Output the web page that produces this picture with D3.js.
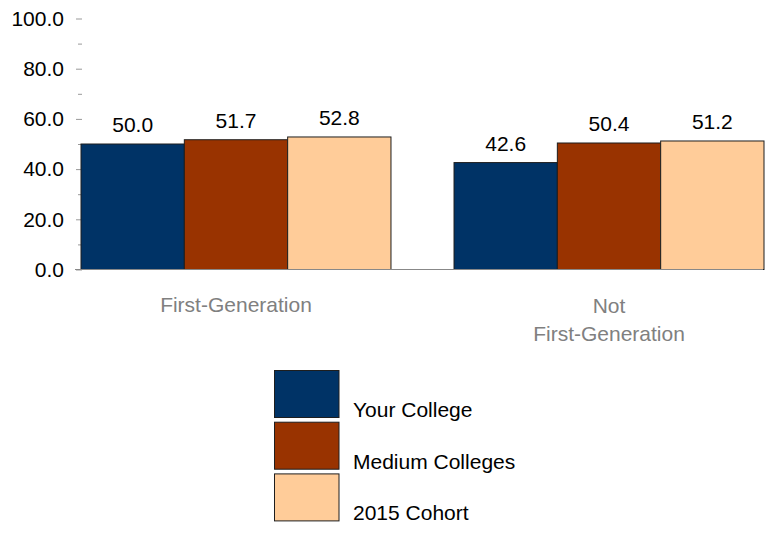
<!DOCTYPE html>
<html>
<head>
<meta charset="utf-8">
<script src="https://cdn.jsdelivr.net/npm/d3@7"></script>
<style>
  html, body { margin: 0; padding: 0; background: #fff; }
  svg { display: block; font-family: "Liberation Sans", Arial, sans-serif; }
</style>
</head>
<body>
<svg id="chart" width="767" height="533"></svg>
<script>
// Chart data
const categories = ["First-Generation", "Not\nFirst-Generation"];
const seriesNames = ["Your College", "Medium Colleges", "2015 Cohort"];
const yourCollege = [50.0, 42.6];
const mediumColleges = [51.7, 50.4];
const cohort2015 = [52.8, 51.2];
const seriesColors = ["#003366", "#993300", "#FFCC99"];
const majorTicks = [0, 20, 40, 60, 80, 100];
const minorTicks = [10, 30, 50, 70, 90];

const seriesValues = [yourCollege, mediumColleges, cohort2015];

const svg = d3.select("#chart");
const fontSize = 21;

// Scales
const y = d3.scaleLinear().domain([0, 100]).range([269.5, 18.5]);
const x0 = d3.scaleBand().domain(categories).range([81, 764])
  .paddingInner(0.169).paddingOuter(0);
const x1 = d3.scaleBand().domain(seriesNames).range([0, x0.bandwidth()]).padding(0);
const color = d3.scaleOrdinal().domain(seriesNames).range(seriesColors);

// Y axis: labelled major ticks plus short minor ticks, no spine
const yAxis = d3.axisLeft(y).tickValues(majorTicks).tickFormat(d3.format(".1f"))
  .tickSize(6).tickPadding(12);
const gy = svg.append("g").attr("transform", "translate(82,0)").call(yAxis);
gy.select(".domain").remove();
gy.selectAll(".tick line").attr("stroke", "#999");
gy.selectAll(".tick text").attr("fill", "#000").style("font-size", fontSize + "px")
  .attr("font-family", "Liberation Sans, Arial, sans-serif");

const yMinor = d3.axisLeft(y).tickValues(minorTicks).tickSize(4).tickFormat("");
const gm = svg.append("g").attr("transform", "translate(82,0)").call(yMinor);
gm.select(".domain").remove();
gm.selectAll(".tick line").attr("stroke", "#999");

// Bars
const rows = categories.map((c, i) => ({
  cat: c,
  vals: seriesNames.map((s, j) => ({ series: s, value: seriesValues[j][i] }))
}));

const groups = svg.append("g").selectAll("g").data(rows).join("g")
  .attr("transform", d => `translate(${x0(d.cat)},0)`);

groups.selectAll("rect").data(d => d.vals).join("rect")
  .attr("x", d => x1(d.series))
  .attr("y", d => y(d.value))
  .attr("width", x1.bandwidth())
  .attr("height", d => y(0) - y(d.value))
  .attr("fill", d => color(d.series))
  .attr("stroke", "#1e1e1e")
  .attr("stroke-width", 1);

groups.selectAll("text.val").data(d => d.vals).join("text")
  .attr("class", "val")
  .attr("x", d => x1(d.series) + x1.bandwidth() / 2)
  .attr("y", d => y(d.value) - 12)
  .attr("text-anchor", "middle")
  .style("font-size", fontSize + "px")
  .attr("fill", "#000")
  .text(d => d.value.toFixed(1));

// Baseline
svg.append("line")
  .attr("x1", 75).attr("x2", 763)
  .attr("y1", y(0)).attr("y2", y(0))
  .attr("stroke", "#888").attr("stroke-width", 1.2);

// Category labels
const catLabels = svg.append("g").selectAll("text").data(categories).join("text")
  .attr("x", d => x0(d) + x0.bandwidth() / 2)
  .attr("y", 312)
  .attr("text-anchor", "middle")
  .style("font-size", fontSize + "px")
  .attr("fill", "#808080");
catLabels.each(function(d) {
  const lines = d.split("\n");
  const t = d3.select(this);
  lines.forEach((ln, i) => {
    t.append("tspan").attr("x", t.attr("x")).attr("dy", i === 0 ? 0 : 28).text(ln);
  });
  if (lines.length > 1) t.attr("y", 313);
});

// Legend
const legend = svg.append("g").attr("transform", "translate(274.5,370.5)");
const item = legend.selectAll("g").data(seriesNames).join("g")
  .attr("transform", (d, i) => `translate(0,${i * 51.7})`);
item.append("rect")
  .attr("width", 64.5).attr("height", 47)
  .attr("fill", d => color(d))
  .attr("stroke", "#1e1e1e").attr("stroke-width", 1);
item.append("text")
  .attr("x", 78.5).attr("y", 46.5)
  .style("font-size", fontSize + "px")
  .attr("fill", "#000")
  .text(d => d);
</script>
</body>
</html>
